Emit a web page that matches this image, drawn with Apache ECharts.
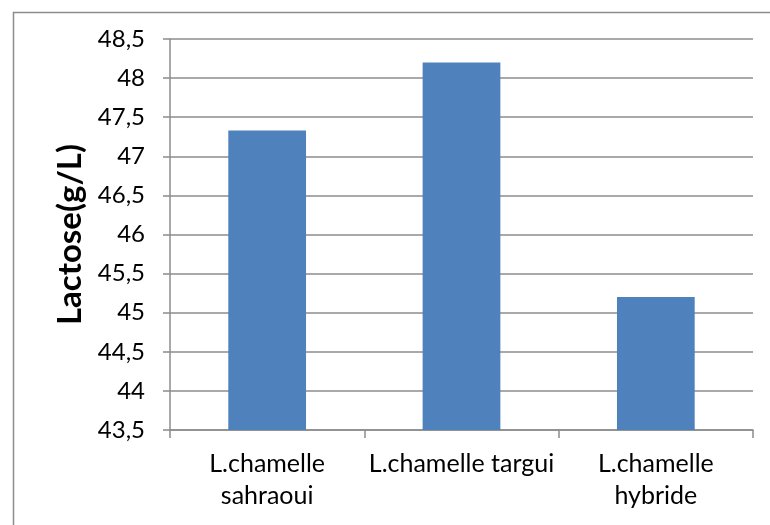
<!DOCTYPE html>
<html>
<head>
<meta charset="utf-8">
<script src="https://cdn.jsdelivr.net/npm/echarts@6/dist/echarts.min.js"></script>
<style>
html,body{margin:0;padding:0;background:#fff;}
#chart{width:770px;height:525px;}
</style>
</head>
<body>
<div id="chart"></div>
<script>
var categories = ['L.chamelle\nsahraoui', 'L.chamelle targui', 'L.chamelle\nhybride'];
var lactoseValues = [47.33, 48.2, 45.2];
var yAxisName = 'Lactose(g/L)';
var yMin = 43.5, yMax = 48.5, yStep = 0.5;

var FONT = 'Lato';
var chart = echarts.init(document.getElementById('chart'), null, {renderer: 'canvas'});
chart.setOption({
  animation: false,
  backgroundColor: '#ffffff',
  graphic: [{
    type: 'rect',
    left: 11, top: 10,
    shape: {width: 800, height: 600},
    style: {fill: 'none', stroke: '#8c8c8c', lineWidth: 1.5},
    silent: true
  }],
  grid: {left: 170, right: 17, top: 39, bottom: 95, containLabel: false},
  xAxis: {
    type: 'category',
    data: categories,
    axisLine: {lineStyle: {color: '#8c8c8c', width: 1.5}},
    axisTick: {show: true, length: 8, lineStyle: {color: '#8c8c8c', width: 1.5}},
    axisLabel: {color: '#000', fontFamily: FONT, fontSize: 25, margin: 18, lineHeight: 32, interval: 0}
  },
  yAxis: {
    type: 'value',
    min: yMin, max: yMax, interval: yStep,
    name: yAxisName,
    nameLocation: 'middle',
    nameGap: 76,
    nameTextStyle: {color: '#000', fontFamily: FONT, fontSize: 33, fontWeight: 'bold'},
    axisLine: {show: true, lineStyle: {color: '#8c8c8c', width: 1.5}},
    axisTick: {show: true, inside: false, length: 7, lineStyle: {color: '#8c8c8c', width: 1.5}},
    splitLine: {show: true, lineStyle: {color: '#8c8c8c', width: 1.5}},
    axisLabel: {
      color: '#000', fontFamily: FONT, fontSize: 24, margin: 25,
      formatter: function (v) { return String(Math.round(v * 10) / 10).replace('.', ','); }
    }
  },
  series: [{
    type: 'bar',
    data: lactoseValues,
    barWidth: '40%',
    itemStyle: {color: '#4f81bd'}
  }]
});
</script>
</body>
</html>
